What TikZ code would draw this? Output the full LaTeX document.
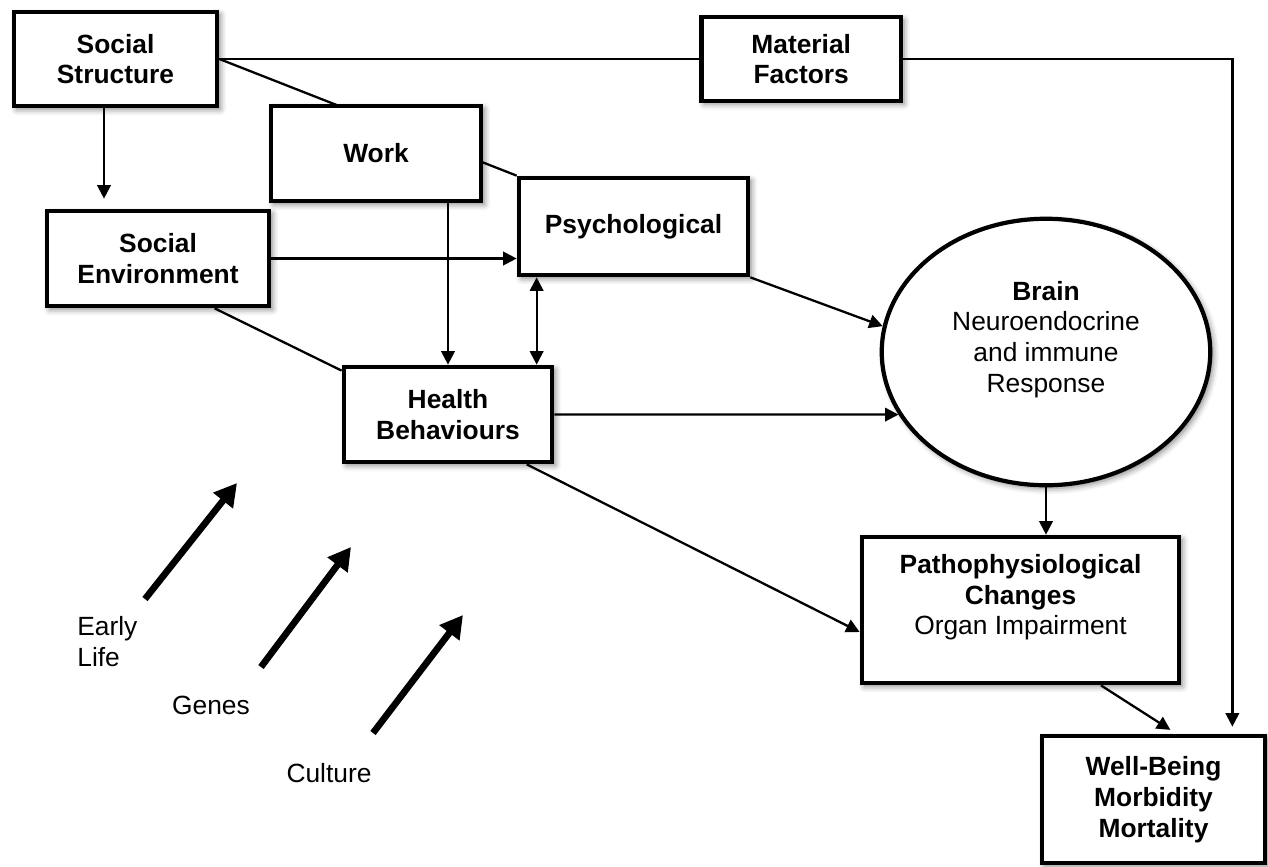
\documentclass[tikz,border=0pt]{standalone}
\usepackage{fontspec}
\setmainfont{Liberation Sans}
\usetikzlibrary{positioning,calc,arrows.meta,shapes.geometric,shadows.blur,backgrounds}

\tikzset{
  box/.style={draw, line width=2.4pt, fill=white, align=center, inner sep=2pt,
    font=\fontsize{15}{17.5}\selectfont\bfseries,
    blur shadow={shadow xshift=0.06cm, shadow yshift=-0.06cm,
      shadow blur radius=0.12cm, shadow opacity=50}},
  plainbox/.style={box, font=\fontsize{15}{17.5}\selectfont},
  label text/.style={font=\fontsize{15}{17.5}\selectfont, align=center, inner sep=0pt},
  link/.style={line width=1.3pt},
  conn/.style={link, -{Triangle[length=0.27cm,width=0.27cm]}},
  both/.style={link, {Triangle[length=0.27cm,width=0.27cm]}-{Triangle[length=0.27cm,width=0.27cm]}},
  fat/.style={line width=3.8pt, -{Triangle[length=0.45cm,width=0.48cm]}},
}

\begin{document}
\begin{tikzpicture}
  \useasboundingbox (0,0) rectangle (25.36,-17.34);

  \node[box, minimum width=4.07cm, minimum height=1.89cm] (ss) at (2.31,-1.18) {Social\\Structure};
  \node[box, minimum width=3.99cm, minimum height=1.67cm, right=9.6cm of ss] (mf) {Material\\Factors};
  \node[box, minimum width=4.21cm, minimum height=1.91cm] (wk) at (7.52,-3.07) {Work};
  \node[box, minimum width=4.45cm, minimum height=1.91cm] (se) at (3.16,-5.17) {Social\\Environment};
  \node[box, minimum width=4.59cm, minimum height=1.95cm] (ps) at (12.67,-4.53) {Psychological};
  \node[box, minimum width=4.17cm, minimum height=1.91cm] (hb) at (8.96,-8.29) {Health\\Behaviours};

  \node[plainbox, ellipse, minimum width=6.57cm, minimum height=5.33cm] (br) at (20.92,-7.04)
    {\textbf{Brain}\\Neuroendocrine\\and immune\\Response\\\mbox{}};
  \node[plainbox, minimum width=6.35cm, minimum height=2.93cm] (pc) at (20.41,-12.2)
    {\textbf{Pathophysiological}\\\textbf{Changes}\\Organ Impairment\\\mbox{}};
  \node[box, minimum width=4.47cm, minimum height=2.55cm] (wb) at (23.07,-15.99)
    {Well-Being\\Morbidity\\Mortality};

  \node[label text, align=left, anchor=west] (el) at (1.54,-12.83) {Early\\Life};
  \node[label text] (gn) at (4.22,-14.1) {Genes};
  \node[label text] (cu) at (6.58,-15.46) {Culture};

  \begin{scope}[on background layer]
    \draw[link] (ss.east) -- (ps.north west);
  \end{scope}
  \draw[link] (ss.east) -- (mf.west);
  \draw[conn, shorten >=0.14cm] (mf.east) -| ([xshift=-0.7cm]wb.north east);
  \draw[conn, shorten >=0.2cm] ([xshift=-0.23cm]ss.south) -- ([xshift=-0.23cm]ss.south |- se.north);
  \draw[conn] (se.east) -- (se.east -| ps.west);
  \draw[link] ($(se.south west)!0.75!(se.south east)$) -- ([yshift=-0.12cm]hb.north west);
  \draw[conn] (wk.south -| hb.north) -- (hb.north);
  \draw[both] ([xshift=0.4cm]ps.south west) -- ([xshift=0.4cm]ps.south west |- hb.north);
  \draw[conn] (ps.south east) -- (br.171);
  \draw[conn] (hb.east) -- (br.203);
  \draw[conn] (br.south) -- (br.south |- pc.north);
  \draw[conn] ($(hb.south west)!0.87!(hb.south east)$) -- ([yshift=-0.44cm]pc.west);
  \draw[conn, shorten >=0.14cm] ($(pc.south west)!0.75!(pc.south east)$) -- ($(wb.north west)!0.6!(wb.north east)$);

  \coordinate (e1) at (2.9,-11.98);
  \coordinate (e2) at (4.74,-9.66);
  \coordinate (g1) at (5.22,-13.34);
  \coordinate (g2) at (7.02,-10.94);
  \coordinate (c1) at (7.46,-14.66);
  \coordinate (c2) at (9.26,-12.3);
  \draw[fat] (e1) -- (e2);
  \draw[fat] (g1) -- (g2);
  \draw[fat] (c1) -- (c2);
\end{tikzpicture}
\end{document}
